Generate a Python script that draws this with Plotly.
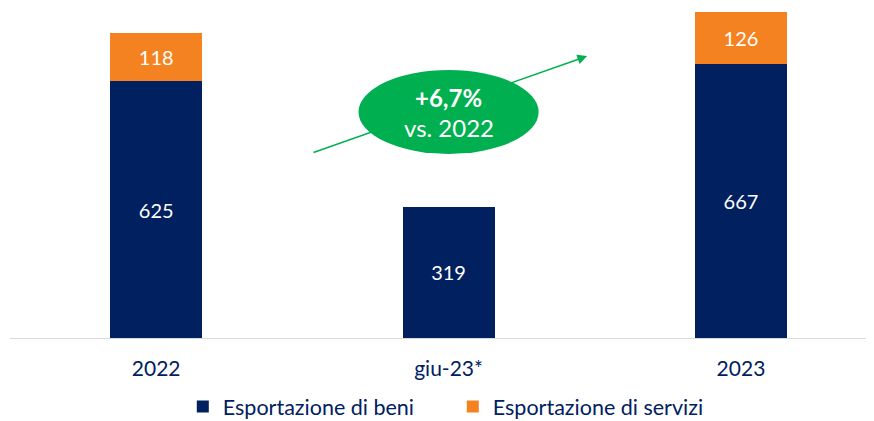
import plotly.graph_objects as go

categories = ["2022", "giu-23*", "2023"]
beni = [625, 319, 667]
servizi = [118, None, 126]
servizi_labels = ["118", "", "126"]

navy = "#002060"
orange = "#F58220"
green = "#00B050"
font_family = "Lato, Open Sans, sans-serif"

fig = go.Figure()
fig.add_trace(go.Bar(
    x=categories, y=beni, name="Esportazione di beni",
    marker=dict(color=navy, line=dict(width=0)),
    text=[str(v) for v in beni], textposition="inside", insidetextanchor="middle",
    textfont=dict(color="white", size=20, family=font_family),
    width=0.315,
))
fig.add_trace(go.Bar(
    x=categories, y=servizi, name="Esportazione di servizi",
    marker=dict(color=orange, line=dict(width=0)),
    text=servizi_labels, textposition="inside", insidetextanchor="middle",
    textfont=dict(color="white", size=20, family=font_family),
    width=0.315,
))

# green arrow
fig.add_annotation(
    x=1.474, y=686, ax=0.533, ay=450,
    xref="x", yref="y", axref="x", ayref="y",
    showarrow=True, arrowhead=2, arrowsize=1.3, arrowwidth=1.5, arrowcolor=green,
    text="",
)
# green ellipse
fig.add_shape(type="circle", xref="x", yref="y",
              x0=0.692, x1=1.308, y0=448, y1=652,
              fillcolor=green, line=dict(width=0), layer="above")
fig.add_annotation(x=1, y=586, xref="x", yref="y", text="<b>+6,7%</b>",
                   showarrow=False, font=dict(color="white", size=24, family=font_family))
fig.add_annotation(x=1, y=512, xref="x", yref="y", text="vs. 2022",
                   showarrow=False, font=dict(color="white", size=24, family=font_family))

fig.update_layout(
    barmode="stack",
    width=866, height=413,
    margin=dict(l=2, r=0, t=0, b=83, autoexpand=False),
    paper_bgcolor="white", plot_bgcolor="white",
    font=dict(family=font_family, color=navy, size=18),
    showlegend=True,
    legend=dict(orientation="h", x=0.2, xanchor="left", y=-0.208, yanchor="middle",
                font=dict(size=21.5, color=navy), traceorder="normal",
                itemwidth=30, entrywidth=225, entrywidthmode="pixels"),
    xaxis=dict(type="category", range=[-0.5, 2.455], showline=True,
               linecolor="#D9D9D9", linewidth=1, showgrid=False, ticks="",
               tickfont=dict(size=21, color=navy), ticklabelstandoff=12),
    yaxis=dict(range=[0, 803], visible=False, showgrid=False),
)

fig.write_html("out.html")
